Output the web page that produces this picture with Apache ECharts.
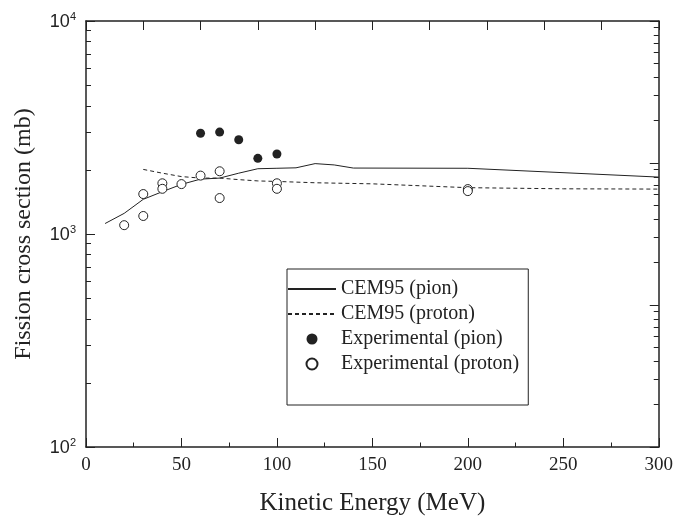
<!DOCTYPE html>
<html>
<head>
<meta charset="utf-8">
<script src="https://cdn.jsdelivr.net/npm/echarts@6/dist/echarts.min.js"></script>
<style>
  html, body { margin: 0; padding: 0; background: #fff; }
  #chart { width: 676px; height: 521px; }
</style>
</head>
<body>
<div id="chart"></div>
<script>
// CEM95 calculations
var pionEnergy = [10, 20, 30, 40, 50, 60, 70, 80, 90, 100, 110, 120, 130, 140, 200, 300];
var pionCem = [1120, 1250, 1455, 1580, 1710, 1810, 1830, 1930, 2025, 2035, 2045, 2140, 2110, 2040, 2035, 1850];
var protonEnergy = [30, 40, 50, 60, 70, 80, 90, 100, 120, 150, 200, 250, 300];
var protonCem = [2010, 1930, 1860, 1830, 1830, 1800, 1775, 1765, 1740, 1720, 1650, 1630, 1625];

// experimental points
var expPionEnergy = [60, 70, 80, 90, 100];
var expPionValue = [2970, 3010, 2770, 2265, 2375];
var expProtonEnergy = [20, 30, 30, 40, 40, 50, 60, 70, 70, 100, 100, 200, 200];
var expProtonValue = [1100, 1540, 1215, 1730, 1630, 1715, 1880, 1970, 1475, 1730, 1630, 1625, 1590];

// axis ticks
var yMajor = [100, 1000, 10000];
var yMinor = [200, 300, 400, 500, 600, 700, 800, 900, 2000, 3000, 4000, 5000, 6000, 7000, 8000, 9000];
var rMajor = [1, 10, 100, 1000];
var rMinor = [2, 3, 4, 5, 6, 7, 8, 9, 20, 30, 40, 50, 60, 70, 80, 90, 200, 300, 400, 500, 600, 700, 800, 900];

function zip(xs, ys) {
    return xs.map(function (x, i) { return [x, ys[i]]; });
}

var ink = '#222';
var serif = 'Liberation Serif';
var sans = 'Liberation Sans';
var axisLine = { show: true, lineStyle: { color: ink, width: 1.5 } };

var myChart = echarts.init(document.getElementById('chart'));
var option = {
    animation: false,
    textStyle: { fontFamily: serif, color: ink },
    grid: { left: 86, right: 15, top: 21, bottom: 74 },
    legend: {
        orient: 'vertical',
        left: 287,
        top: 269,
        padding: [10, 9, 31, 0],
        itemWidth: 48,
        itemHeight: 11,
        itemGap: 5,
        borderColor: ink,
        borderWidth: 1,
        textStyle: { fontFamily: serif, fontSize: 20, color: ink },
        data: ['CEM95 (pion)', 'CEM95 (proton)', 'Experimental (pion)', 'Experimental (proton)']
    },
    xAxis: [{
        type: 'value', position: 'bottom',
        min: 0, max: 300, interval: 50,
        axisLine: axisLine,
        axisTick: { inside: true, length: 9, lineStyle: { color: ink } },
        minorTick: { show: true, splitNumber: 2, length: 4.5, lineStyle: { color: ink } },
        splitLine: { show: false },
        axisLabel: { fontFamily: serif, fontSize: 19, color: ink, margin: 9 },
        name: 'Kinetic Energy (MeV)', nameLocation: 'middle', nameGap: 44,
        nameTextStyle: { fontFamily: serif, fontSize: 25, color: ink }
    }, {
        type: 'value', position: 'top',
        min: 0, max: 300, interval: 30,
        axisLine: axisLine,
        axisTick: { inside: true, length: 9, lineStyle: { color: ink } },
        splitLine: { show: false },
        axisLabel: { show: false }
    }],
    yAxis: [{
        type: 'log', logBase: 10, position: 'left',
        min: 100, max: 10000,
        axisLine: axisLine,
        axisTick: { inside: true, length: 9, customValues: yMajor, lineStyle: { color: ink } },
        splitLine: { show: false },
        axisLabel: {
            customValues: yMajor, margin: 10,
            formatter: function (v) { return '{b|10}{s|' + Math.round(Math.log10(v)) + '}'; },
            rich: {
                b: { fontFamily: sans, fontSize: 18, color: ink, lineHeight: 20, verticalAlign: 'bottom' },
                s: { fontFamily: sans, fontSize: 11, color: ink, lineHeight: 20, verticalAlign: 'top' }
            }
        },
        name: 'Fission cross section (mb)', nameLocation: 'middle', nameGap: 50,
        nameTextStyle: { fontFamily: serif, fontSize: 24, color: ink }
    }, {
        type: 'log', logBase: 10, position: 'left',
        min: 100, max: 10000,
        axisLine: { show: false },
        axisTick: { inside: true, length: 5, customValues: yMinor, lineStyle: { color: ink } },
        splitLine: { show: false },
        axisLabel: { show: false }
    }, {
        type: 'log', logBase: 10, position: 'right',
        min: 1, max: 1000,
        axisLine: axisLine,
        axisTick: { inside: true, length: 9, customValues: rMajor, lineStyle: { color: ink } },
        splitLine: { show: false },
        axisLabel: { show: false }
    }, {
        type: 'log', logBase: 10, position: 'right',
        min: 1, max: 1000,
        axisLine: { show: false },
        axisTick: { inside: true, length: 5, customValues: rMinor, lineStyle: { color: ink } },
        splitLine: { show: false },
        axisLabel: { show: false }
    }],
    series: [{
        name: 'CEM95 (pion)', type: 'line', symbol: 'none',
        lineStyle: { color: ink, width: 1 },
        itemStyle: { color: 'rgba(0,0,0,0)' },
        data: zip(pionEnergy, pionCem)
    }, {
        name: 'CEM95 (proton)', type: 'line', symbol: 'none',
        lineStyle: { color: ink, width: 1, type: [4, 3] },
        itemStyle: { color: 'rgba(0,0,0,0)' },
        data: zip(protonEnergy, protonCem)
    }, {
        name: 'Experimental (pion)', type: 'scatter', symbolSize: 9, z: 3,
        itemStyle: { color: ink, opacity: 1 },
        data: zip(expPionEnergy, expPionValue)
    }, {
        name: 'Experimental (proton)', type: 'scatter', symbolSize: 9, z: 3,
        itemStyle: { color: '#fff', borderColor: ink, borderWidth: 1, opacity: 1 },
        data: zip(expProtonEnergy, expProtonValue)
    }]
};
myChart.setOption(option);
</script>
</body>
</html>
